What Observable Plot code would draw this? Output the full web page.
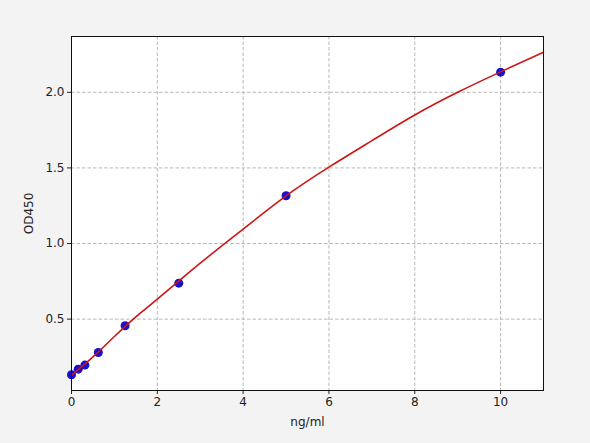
<!DOCTYPE html>
<html>
<head>
<meta charset="utf-8">
<script src="https://cdn.jsdelivr.net/npm/d3@7"></script>
<script src="https://cdn.jsdelivr.net/npm/@observablehq/plot@0.6"></script>
<style>
  html, body { margin: 0; padding: 0; background: #f3f3f3; }
  #chart { width: 590px; height: 443px; }
  svg { display: block; }
</style>
</head>
<body>
<div id="chart"></div>
<script>
// Standard points
const conc = [0, 0.156, 0.3125, 0.625, 1.25, 2.5, 5, 10];
const od = [0.132, 0.169, 0.196, 0.279, 0.456, 0.738, 1.316, 2.133];

// Fitted curve
const curveX = [0, 0.5, 1, 1.5, 2, 3, 4, 5, 6, 7, 8, 9, 10, 11];
const curveY = [0.128, 0.25, 0.385, 0.515, 0.632, 0.87, 1.095, 1.315, 1.505, 1.68, 1.85, 2.0, 2.135, 2.265];

const xTicks = [0, 2, 4, 6, 8, 10];
const yTicks = [0.5, 1.0, 1.5, 2.0];

const points = conc.map((x, i) => ({x, y: od[i]}));
const curve = curveX.map((x, i) => ({x, y: curveY[i]}));

const chart = Plot.plot({
  width: 590,
  height: 443,
  marginLeft: 71,
  marginRight: 47,
  marginTop: 36,
  marginBottom: 53,
  style: {background: "transparent", fontFamily: "DejaVu Sans", fontSize: "12px", color: "#222"},
  x: {domain: [0, 11]},
  y: {domain: [0.028, 2.369]},
  marks: [
    Plot.frame({fill: "white", stroke: "none"}),
    Plot.gridX(xTicks.slice(1), {stroke: "#b0b0b0", strokeOpacity: 1, strokeDasharray: "3.5,2", strokeWidth: 0.9}),
    Plot.gridY(yTicks, {stroke: "#b0b0b0", strokeOpacity: 1, strokeDasharray: "3.5,2", strokeWidth: 0.9}),
    Plot.axisX({ticks: xTicks, tickSize: 4, tickPadding: 3, tickFormat: d3.format("d"),
      label: "ng/ml", labelAnchor: "center", labelArrow: "none", labelOffset: 35}),
    Plot.axisY({ticks: yTicks, tickSize: 4, tickPadding: 3, tickFormat: d3.format(".1f"),
      label: "OD450", labelAnchor: "center", labelArrow: "none", labelOffset: 47}),
    Plot.dot(points, {x: "x", y: "y", r: 4.5, fill: "#1a10cc", stroke: "none"}),
    Plot.line(curve, {x: "x", y: "y", curve: "natural", stroke: "#cc1515", strokeWidth: 1.6}),
    Plot.frame({stroke: "#111", strokeWidth: 1})
  ]
});
document.getElementById("chart").appendChild(chart);
</script>
</body>
</html>
